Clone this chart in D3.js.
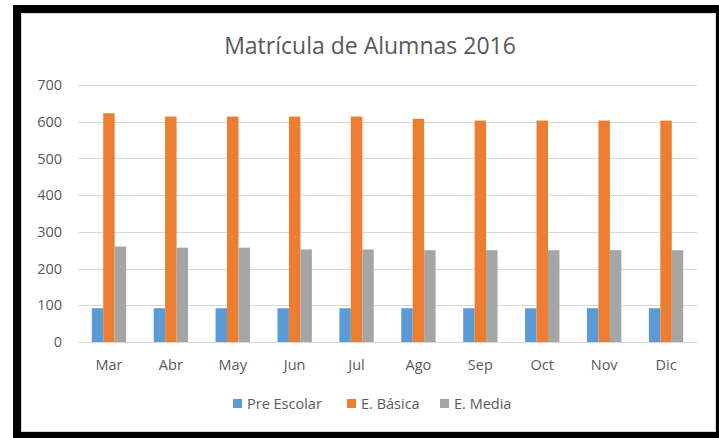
<!doctype html>
<html>
<head>
<meta charset="utf-8"/>
<style>
    html, body { margin: 0; padding: 0; background: #fff; }
    svg { display: block; }
    text { font-family: "Open Sans", "Noto Sans", sans-serif; fill: #595959; }
</style>
<script src="https://d3js.org/d3.v7.min.js"></script>
</head>
<body>
<svg width="719" height="438"></svg>
<script>
    // data
    var months = ["Mar", "Abr", "May", "Jun", "Jul", "Ago", "Sep", "Oct", "Nov", "Dic"];
    var seriesNames = ["Pre Escolar", "E. Básica", "E. Media"];
    var preEscolar = [92, 92, 92, 92, 92, 92, 92, 92, 92, 92];
    var basica = [623, 614, 614, 614, 614, 608, 603, 603, 603, 603];
    var media = [260, 257, 257, 252, 252, 250, 250, 250, 250, 250];
    var yTicks = [0, 100, 200, 300, 400, 500, 600, 700];
    var colors = ["#5B9BD5", "#ED7D31", "#A5A5A5"];

    var svg = d3.select("svg");

    // black frame around the chart picture
    svg.append("rect").attr("x", 13).attr("y", 5).attr("width", 706).attr("height", 433).attr("fill", "#000");
    svg.append("rect").attr("x", 21.5).attr("y", 13.5).attr("width", 694).attr("height", 418)
        .attr("fill", "#fff").attr("stroke", "#d9d9d9").attr("stroke-width", 1);

    var plotLeft = 78, plotRight = 697, plotTop = 85, plotBottom = 342;

    var x = d3.scaleBand().domain(months).range([plotLeft, plotRight]).paddingInner(0).paddingOuter(0);
    var bw = x.bandwidth();
    var gw = bw * 0.555;
    var x1 = d3.scaleBand().domain(d3.range(3)).range([(bw - gw) / 2, (bw + gw) / 2]);
    var y = d3.scaleLinear().domain([0, 700]).range([plotBottom, plotTop]);

    // gridlines
    svg.append("g").selectAll("line").data(yTicks).enter().append("line")
        .attr("x1", plotLeft).attr("x2", plotRight)
        .attr("y1", function(d) { return Math.round(y(d)) + 0.5; })
        .attr("y2", function(d) { return Math.round(y(d)) + 0.5; })
        .attr("stroke", "#d9d9d9").attr("stroke-width", 1);

    // y axis labels
    var yAxis = svg.append("g").attr("transform", "translate(" + (plotLeft - 6) + ",0)")
        .call(d3.axisLeft(y).tickValues(yTicks).tickSize(0).tickPadding(10));
    yAxis.select(".domain").remove();
    yAxis.selectAll("text").style("font-size", "14.5px").attr("fill", "#595959")
        .style("font-family", "'Open Sans', sans-serif");

    // bars
    var table = months.map(function(m, i) {
        return { month: m, values: [preEscolar[i], basica[i], media[i]] };
    });
    var groups = svg.append("g").selectAll("g").data(table).enter().append("g")
        .attr("transform", function(d) { return "translate(" + x(d.month) + ",0)"; });
    groups.selectAll("rect").data(function(d) { return d.values; }).enter().append("rect")
        .attr("x", function(d, i) { return x1(i); })
        .attr("width", x1.bandwidth())
        .attr("y", function(d) { return y(d); })
        .attr("height", function(d) { return y(0) - y(d); })
        .attr("fill", function(d, i) { return colors[i]; });

    // x axis labels
    var xAxis = svg.append("g").attr("transform", "translate(0," + plotBottom + ")")
        .call(d3.axisBottom(x).tickSize(0).tickPadding(18));
    xAxis.select(".domain").remove();
    xAxis.selectAll("text").style("font-size", "14.5px").attr("fill", "#595959")
        .style("font-family", "'Open Sans', sans-serif");

    // title
    svg.append("text").attr("x", 370).attr("y", 54).attr("text-anchor", "middle")
        .style("font-size", "23px").text("Matrícula de Alumnas 2016");

    // legend
    var legendX = [233, 347, 440];
    var legend = svg.append("g").selectAll("g").data(seriesNames).enter().append("g")
        .attr("transform", function(d, i) { return "translate(" + legendX[i] + ",399)"; });
    legend.append("rect").attr("width", 9).attr("height", 9)
        .attr("fill", function(d, i) { return colors[i]; });
    legend.append("text").attr("x", 14).attr("y", 9.5)
        .style("font-size", "14.5px").text(function(d) { return d; });
</script>
</body>
</html>
